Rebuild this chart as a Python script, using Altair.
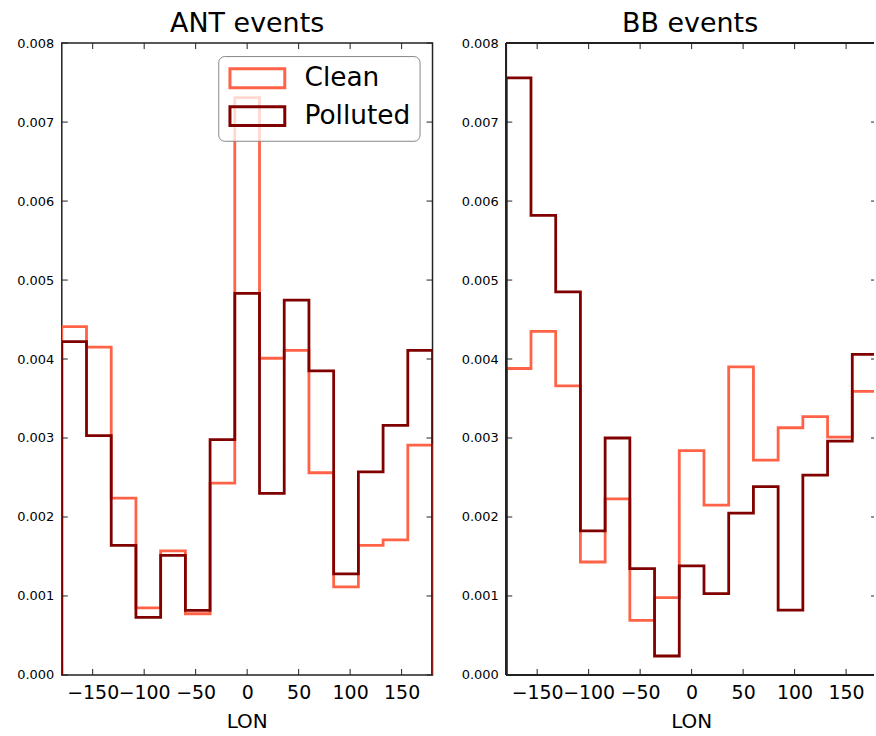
import altair as alt
import pandas as pd

# Longitude bin edges shared by both histograms
lon_edges = [-180, -156, -132, -108, -84, -60, -36, -12, 12, 36, 60, 84, 108, 132, 156, 180]

# Normalised counts per longitude bin
ant_clean = [0.00441, 0.00415, 0.00224, 0.00085, 0.00157, 0.000775, 0.00243, 0.00731,
             0.00401, 0.00411, 0.00256, 0.001115, 0.00164, 0.00171, 0.00291]
ant_polluted = [0.00422, 0.00303, 0.00164, 0.00073, 0.001515, 0.000817, 0.00298, 0.00483,
                0.00230, 0.004745, 0.00385, 0.00128, 0.00257, 0.00316, 0.00411]
bb_clean = [0.00388, 0.00435, 0.00366, 0.00143, 0.00223, 0.00069, 0.00098, 0.00284,
            0.00215, 0.00390, 0.00272, 0.00313, 0.00327, 0.00301, 0.00359]
bb_polluted = [0.00756, 0.00582, 0.00485, 0.001825, 0.00300, 0.001345, 0.00024, 0.00138,
               0.00103, 0.00205, 0.002385, 0.00082, 0.00253, 0.00296, 0.00406]

series_names = ["Clean", "Polluted"]
series_colors = ["#ff6347", "#800000"]

x_ticks = [-150, -100, -50, 0, 50, 100, 150]
y_ticks = [0.000, 0.001, 0.002, 0.003, 0.004, 0.005, 0.006, 0.007, 0.008]
x_title = ["LON"]

H = 634
TICK = 6
FONT = "DejaVu Sans"
FRAME = "#222222"

y_scale = alt.Scale(domain=[0, 0.008], nice=False, zero=True)
color_scale = alt.Scale(domain=series_names, range=series_colors)
x_axis = alt.Axis(values=x_ticks, title=None, format="d", labelOverlap=False)
y_axis = alt.Axis(values=y_ticks, format=".3f", title=None)


def step_outline(values, label):
    """Vertices of a step-type histogram outline, closed down to zero at both ends."""
    xs = [lon_edges[0]]
    ys = [0.0]
    for i, v in enumerate(values):
        xs += [lon_edges[i], lon_edges[i + 1]]
        ys += [v, v]
    xs.append(lon_edges[-1])
    ys.append(0.0)
    return pd.DataFrame({"LON": xs, "density": ys, "order": list(range(len(xs))), "series": label})


def panel(title, clean, polluted, legend, width, x_max, full_frame):
    x_scale = alt.Scale(domain=[-180, x_max], nice=False, zero=False)
    xenc = alt.X("LON:Q", scale=x_scale, axis=x_axis)
    yenc = alt.Y("density:Q", scale=y_scale, axis=y_axis)

    df = pd.concat([step_outline(clean, "Clean"), step_outline(polluted, "Polluted")],
                   ignore_index=True)
    lines = alt.Chart(df).mark_line(strokeWidth=2.8, strokeJoin="miter", clip=True).encode(
        x=xenc,
        y=yenc,
        color=alt.Color("series:N", scale=color_scale, legend=legend),
        order="order:Q",
    )

    # inward tick marks on all four sides of the frame
    xt = pd.DataFrame({"LON": x_ticks})
    yt = pd.DataFrame({"density": y_ticks})
    rule = dict(color=FRAME, strokeWidth=1)
    r_in = width if full_frame else width + 3
    layers = [
        lines,
        alt.Chart(xt).mark_rule(**rule).encode(x=xenc, y=alt.value(H), y2=alt.value(H - TICK)),
        alt.Chart(xt).mark_rule(**rule).encode(x=xenc, y=alt.value(0), y2=alt.value(TICK)),
        alt.Chart(yt).mark_rule(**rule).encode(y=yenc, x=alt.value(0), x2=alt.value(TICK)),
        alt.Chart(yt).mark_rule(**rule).encode(y=yenc, x=alt.value(r_in - TICK),
                                               x2=alt.value(min(r_in, width))),
        # x-axis title, set on its baseline under the tick labels
        alt.Chart(pd.DataFrame({"t": x_title})).mark_text(
            font=FONT, fontSize=20, baseline="alphabetic", align="center", color="black"
        ).encode(text="t:N", x=alt.value(186), y=alt.value(H + 53)),
    ]

    if not full_frame:
        # frame drawn side by side; the right edge lies beyond the canvas
        frame = dict(color=FRAME, strokeWidth=1.5)
        layers += [
            alt.Chart(xt).mark_rule(**frame).encode(x=alt.value(0), x2=alt.value(0),
                                                    y=alt.value(0), y2=alt.value(H)),
            alt.Chart(xt).mark_rule(**frame).encode(x=alt.value(0), x2=alt.value(width),
                                                    y=alt.value(0), y2=alt.value(0)),
            alt.Chart(xt).mark_rule(**frame).encode(x=alt.value(0), x2=alt.value(width),
                                                    y=alt.value(H), y2=alt.value(H)),
        ]

    props = dict(
        width=width, height=H,
        title=alt.TitleParams(title, fontSize=27, font=FONT, fontWeight="normal",
                              anchor="middle", offset=-1, color="black"),
    )
    if full_frame:
        props["view"] = alt.ViewBackground(stroke=FRAME, strokeWidth=1.5)
    else:
        props["view"] = alt.ViewBackground(stroke="transparent")
    return alt.layer(*layers).properties(**props)


# rectangular outline patches, wider than the layout slot of each entry
legend = alt.Legend(
    title=None,
    orient="none",
    legendX=157,
    legendY=13,
    symbolType="M-2.5,-0.864H2.5V0.864H-2.5Z",
    symbolSize=484,
    symbolOffset=17,
    symbolStrokeWidth=3,
    symbolFillColor="transparent",
    labelFont=FONT,
    labelFontSize=26.5,
    labelColor="black",
    labelOffset=34,
    rowPadding=6,
    padding=9,
    strokeColor="#888888",
    cornerRadius=6,
    fillColor="rgba(255,255,255,0.75)",
)

chart = (
    alt.hconcat(
        panel("ANT events", ant_clean, ant_polluted, legend, 372, 180, True),
        panel("BB events", bb_clean, bb_polluted, None, 369, 177.1, False),
        spacing=74,
        bounds="flush",
    )
    .resolve_scale(color="independent")
    .resolve_legend(color="independent")
    .properties(padding={"left": 5, "top": 8, "right": 0, "bottom": 0},
                background="white")
    .configure_axis(ticks=False, domain=False, grid=False, labelFont=FONT,
                    labelColor="black")
    .configure_axisX(labelFontSize=19, labelPadding=9)
    .configure_axisY(labelFontSize=13, labelPadding=8, minExtent=56, maxExtent=56)
)

chart.save("out.html", embed_options={"renderer": "svg", "actions": False})
